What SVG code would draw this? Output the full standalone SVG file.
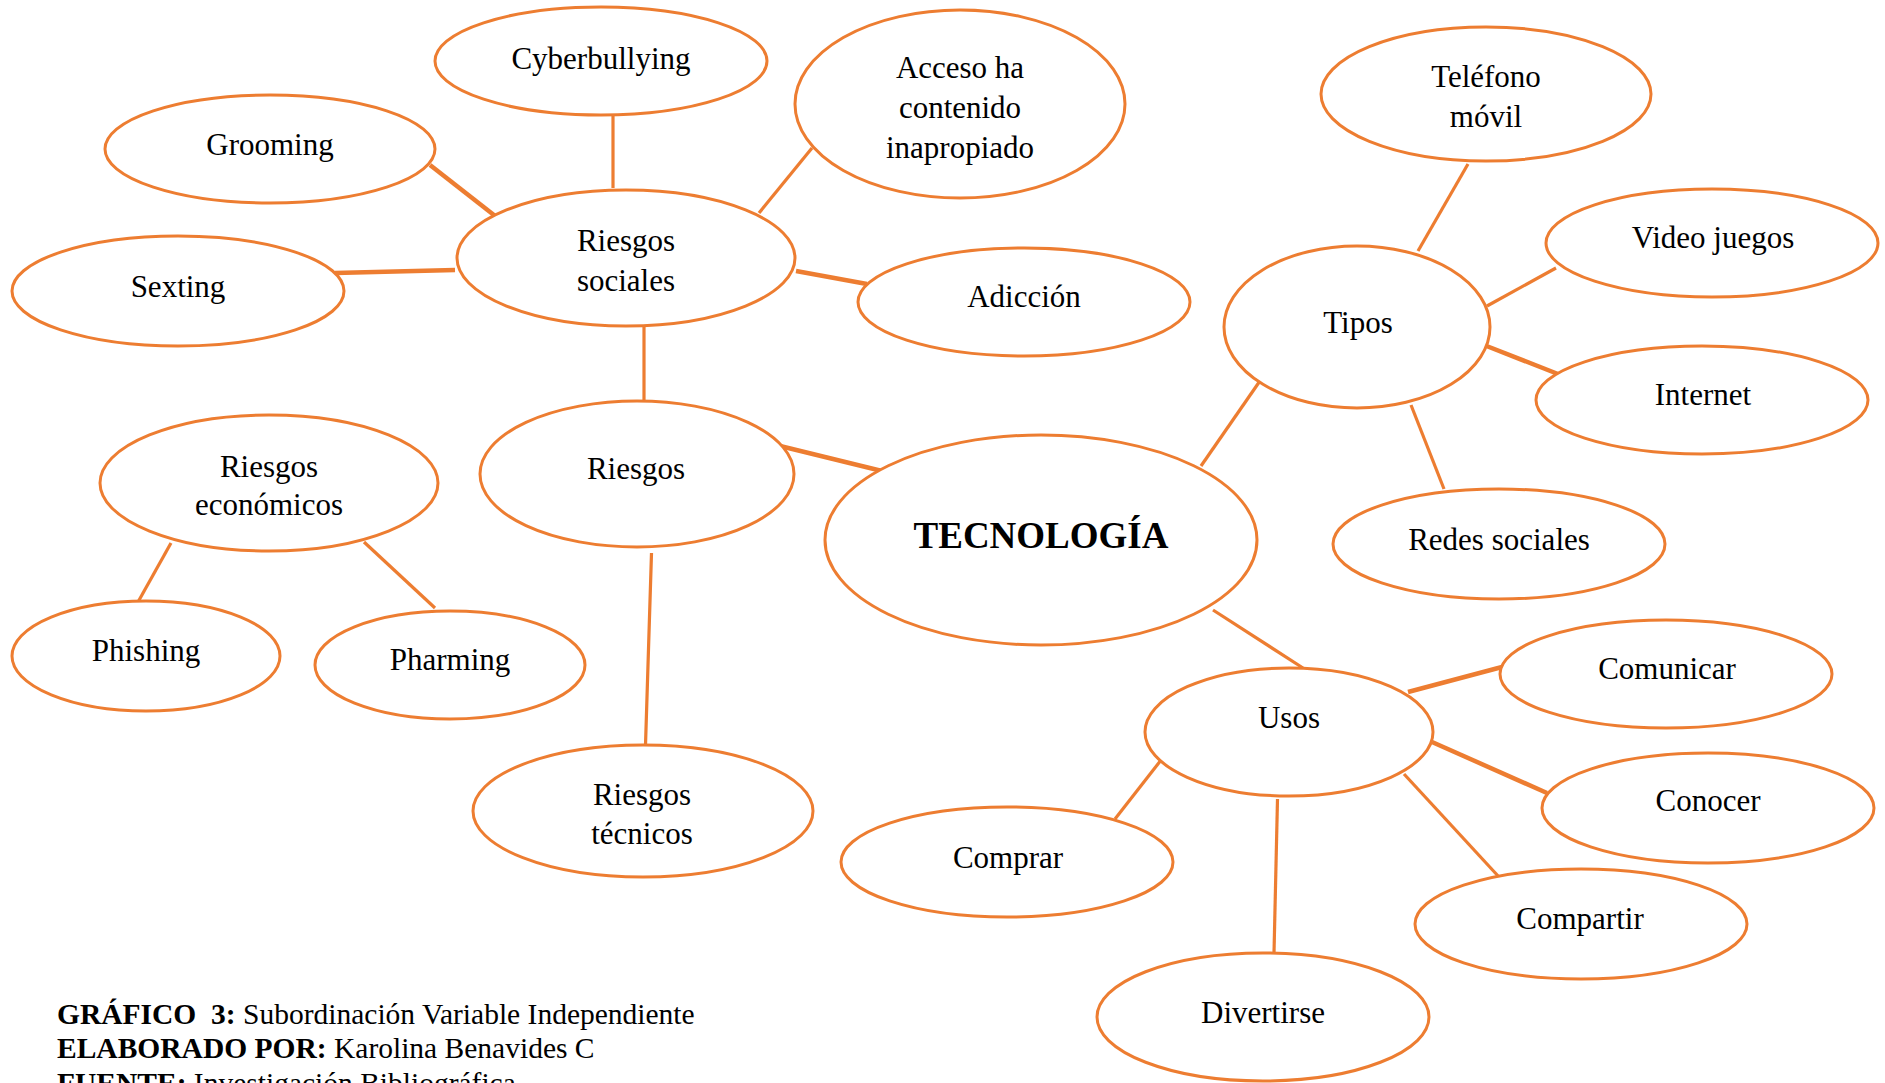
<svg xmlns="http://www.w3.org/2000/svg" width="1885" height="1083" viewBox="0 0 1885 1083">
<style>
.n ellipse{fill:#fff;stroke:#ED7D31;stroke-width:3}
.n text{font-family:"Liberation Serif","Times New Roman",serif;font-size:31px;fill:#000;text-anchor:middle}
#connectors line{stroke:#ED7D31;stroke-width:3.2;stroke-linecap:butt}
#connectors line.k{stroke-width:4.5}
.cap{font-family:"Liberation Serif","Times New Roman",serif;font-size:29.5px;fill:#000}
.b{font-weight:bold}
</style>
<rect width="1885" height="1083" fill="#fff"/>
<g id="connectors">
<line x1="613" y1="113" x2="613" y2="188"/>
<line class="k" x1="430" y1="165" x2="499" y2="219"/>
<line class="k" x1="335" y1="273" x2="455" y2="270"/>
<line x1="812" y1="148" x2="759" y2="213"/>
<line class="k" x1="796" y1="271" x2="867" y2="284"/>
<line x1="644" y1="326" x2="644" y2="401"/>
<line class="k" x1="776" y1="445" x2="882" y2="471"/>
<line x1="651.5" y1="553" x2="645.5" y2="745"/>
<line x1="171" y1="543" x2="138" y2="602"/>
<line x1="364" y1="542" x2="435" y2="608"/>
<line x1="1468" y1="164" x2="1418" y2="251"/>
<line x1="1556" y1="268" x2="1487" y2="306"/>
<line class="k" x1="1484" y1="345" x2="1558" y2="374"/>
<line x1="1411" y1="405" x2="1444" y2="489"/>
<line x1="1262" y1="378" x2="1201" y2="466"/>
<line x1="1213" y1="610" x2="1303" y2="668"/>
<line class="k" x1="1408" y1="692" x2="1502" y2="667"/>
<line class="k" x1="1432" y1="742" x2="1547" y2="793"/>
<line x1="1404" y1="774" x2="1499" y2="877"/>
<line x1="1277.5" y1="799" x2="1274" y2="953"/>
<line x1="1165" y1="755" x2="1115" y2="819"/>
</g>
<g id="cyberbullying" class="n"><ellipse cx="601" cy="61" rx="166" ry="54"/><text x="601" y="69">Cyberbullying</text></g>
<g id="acceso" class="n"><ellipse cx="960" cy="104" rx="165" ry="94"/><text x="960" y="78">Acceso ha</text><text x="960" y="118">contenido</text><text x="960" y="158">inapropiado</text></g>
<g id="grooming" class="n"><ellipse cx="270" cy="149" rx="165" ry="54"/><text x="270" y="155">Grooming</text></g>
<g id="riesgos-sociales" class="n"><ellipse cx="626" cy="258" rx="169" ry="68"/><text x="626" y="251">Riesgos</text><text x="626" y="291">sociales</text></g>
<g id="sexting" class="n"><ellipse cx="178" cy="291" rx="166" ry="55"/><text x="178" y="297">Sexting</text></g>
<g id="adiccion" class="n"><ellipse cx="1024" cy="302" rx="166" ry="54"/><text x="1024" y="307">Adicción</text></g>
<g id="telefono" class="n"><ellipse cx="1486" cy="94" rx="165" ry="67"/><text x="1486" y="87">Teléfono</text><text x="1486" y="127">móvil</text></g>
<g id="videojuegos" class="n"><ellipse cx="1712" cy="243" rx="166" ry="54"/><text x="1713" y="248">Video juegos</text></g>
<g id="tipos" class="n"><ellipse cx="1357" cy="327" rx="133" ry="81"/><text x="1358" y="333">Tipos</text></g>
<g id="internet" class="n"><ellipse cx="1702" cy="400" rx="166" ry="54"/><text x="1703" y="405">Internet</text></g>
<g id="riesgos-economicos" class="n"><ellipse cx="269" cy="483" rx="169" ry="68"/><text x="269" y="477">Riesgos</text><text x="269" y="515">económicos</text></g>
<g id="riesgos" class="n"><ellipse cx="637" cy="474" rx="157" ry="73"/><text x="636" y="479">Riesgos</text></g>
<g id="tecnologia" class="n"><ellipse cx="1041" cy="540" rx="216" ry="105"/><text x="1041" y="548" style="font-weight:bold;font-size:37px">TECNOLOGÍA</text></g>
<g id="redes" class="n"><ellipse cx="1499" cy="544" rx="166" ry="55"/><text x="1499" y="550">Redes sociales</text></g>
<g id="phishing" class="n"><ellipse cx="146" cy="656" rx="134" ry="55"/><text x="146" y="661">Phishing</text></g>
<g id="pharming" class="n"><ellipse cx="450" cy="665" rx="135" ry="54"/><text x="450" y="670">Pharming</text></g>
<g id="comunicar" class="n"><ellipse cx="1666" cy="674" rx="166" ry="54"/><text x="1667" y="679">Comunicar</text></g>
<g id="usos" class="n"><ellipse cx="1289" cy="732" rx="144" ry="64"/><text x="1289" y="728">Usos</text></g>
<g id="riesgos-tecnicos" class="n"><ellipse cx="643" cy="811" rx="170" ry="66"/><text x="642" y="805">Riesgos</text><text x="642" y="844">técnicos</text></g>
<g id="conocer" class="n"><ellipse cx="1708" cy="808" rx="166" ry="55"/><text x="1708" y="811">Conocer</text></g>
<g id="comprar" class="n"><ellipse cx="1007" cy="862" rx="166" ry="55"/><text x="1008" y="868">Comprar</text></g>
<g id="compartir" class="n"><ellipse cx="1581" cy="924" rx="166" ry="55"/><text x="1580" y="929">Compartir</text></g>
<g id="divertirse" class="n"><ellipse cx="1263" cy="1017" rx="166" ry="64"/><text x="1263" y="1023">Divertirse</text></g>
<g id="caption">
<text class="cap" x="57" y="1024"><tspan class="b">GRÁFICO&#160; 3:</tspan> Subordinación Variable Independiente</text>
<text class="cap" x="57" y="1058"><tspan class="b">ELABORADO POR:</tspan> Karolina Benavides C</text>
<text class="cap" x="57" y="1093"><tspan class="b">FUENTE:</tspan> Investigación Bibliográfica</text>
</g>
</svg>
